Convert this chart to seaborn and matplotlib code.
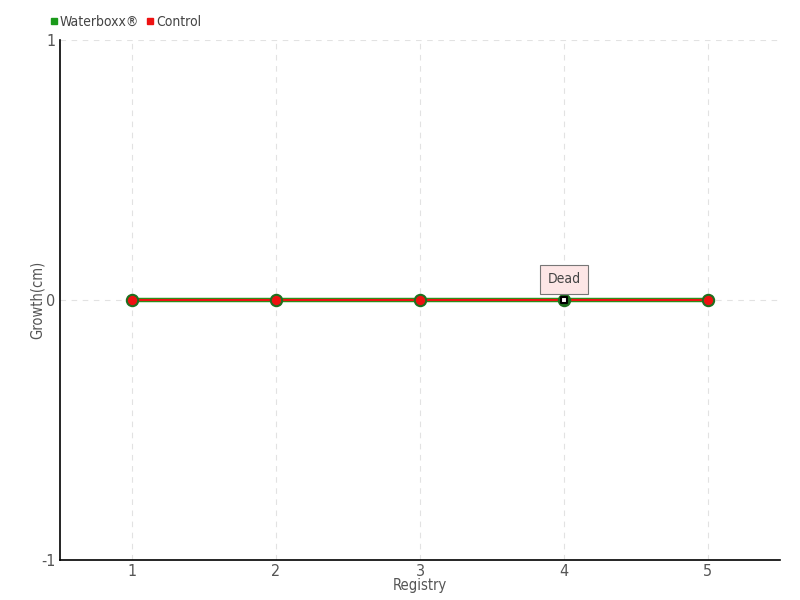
import numpy as np
import pandas as pd
import matplotlib
matplotlib.use("Agg")
import matplotlib.pyplot as plt
import seaborn as sns

registry = [1, 2, 3, 4, 5]
waterboxx = [0, 0, 0, 0, 0]
control = [0, 0, 0, 0, 0]
control_status = ["", "", "", "Dead", ""]

sns.set_style("white")
plt.rcParams["font.family"] = ["DejaVu Sans"]
plt.rcParams["font.stretch"] = "condensed"
plt.rcParams["axes.unicode_minus"] = False

df = pd.DataFrame({
    "registry": registry * 2,
    "growth": waterboxx + control,
    "series": ["Waterboxx®"] * 5 + ["Control"] * 5,
})

fig = plt.figure(figsize=(8, 6), dpi=100)
ax = fig.add_axes([60 / 800, 40 / 600, 720 / 800, 520 / 600])

sns.lineplot(data=df[df.series == "Waterboxx®"], x="registry", y="growth",
             color="#1a9a1a", lw=3.2, ax=ax, legend=False, zorder=3)
sns.lineplot(data=df[df.series == "Control"], x="registry", y="growth",
             color="#ee1111", lw=1.6, ax=ax, legend=False, zorder=4)
ax.scatter(registry, waterboxx, s=75, color="#1f6f1f", zorder=5)
alive = [i for i, s in enumerate(control_status) if s != "Dead"]
dead = [i for i, s in enumerate(control_status) if s == "Dead"]
ax.scatter([registry[i] for i in alive], [control[i] for i in alive],
           s=32, color="#ee1111", zorder=6)
ax.scatter([registry[i] for i in dead], [control[i] for i in dead],
           s=18, marker="s", facecolor="white", edgecolor="black", lw=1.5, zorder=6)
for i in dead:
    ax.annotate(control_status[i], (registry[i], control[i]), xytext=(0, 15),
                textcoords="offset points", ha="center", va="center",
                fontsize=10, color="#444444", zorder=7,
                bbox=dict(boxstyle="square,pad=0.55", fc="#fde6e6", ec="#777777", lw=0.8))

ax.set_xlim(0.5, 5.5)
ax.set_ylim(-1, 1)
ax.set_xticks(registry)
ax.set_yticks([-1, 0, 1])
ax.grid(True, color="#e2e2e2", ls=(0, (5, 5)), lw=0.8)
ax.tick_params(axis="x", direction="inout", length=8, width=1, colors="black",
               labelcolor="#555555", labelsize=11.5, pad=-1)
ax.tick_params(axis="y", direction="inout", length=7, width=1, colors="black",
               labelcolor="#555555", labelsize=11.5, pad=0)
for side in ["top", "right"]:
    ax.spines[side].set_visible(False)
for side in ["left", "bottom"]:
    ax.spines[side].set_color("black")
    ax.spines[side].set_linewidth(1.2)
ax.set_xlabel("Registry", fontsize=10.5, color="#555555", labelpad=-1)
ax.set_ylabel("Growth(cm)", fontsize=10.5, color="#555555", labelpad=-3)

handles = [plt.Line2D([], [], marker="s", ls="", color="#1a9a1a", markersize=4.5),
           plt.Line2D([], [], marker="s", ls="", color="#ee1111", markersize=4.5)]
fig.legend(handles, ["Waterboxx®", "Control"], loc="upper left",
           bbox_to_anchor=(44 / 800, 1 - 9 / 600), ncol=2, frameon=False,
           handlelength=0.6, handletextpad=0.15, columnspacing=0.5,
           fontsize=10, labelcolor="#444444", borderaxespad=0)

fig.savefig("out.png", dpi=100)
